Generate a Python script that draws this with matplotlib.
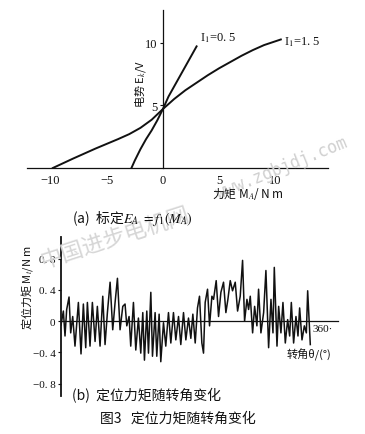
import matplotlib
matplotlib.use("Agg")
import matplotlib.pyplot as plt

# ---------------- data ----------------
# (a) calibration curves E_k vs M_A
m_i05 = [-2.8, -2.5, -2.0, -1.5, -1.0, -0.5, 0.0, 0.5, 1.0, 1.5, 2.0, 2.5, 3.0]
e_i05 = [0.0, 0.6, 1.5, 2.3, 3.0, 3.8, 4.7, 5.7, 6.5, 7.3, 8.1, 8.9, 9.7]
m_i15 = [-9.8, -8.0, -6.0, -4.0, -3.0, -2.0, -1.0, 0.0, 1.0, 2.0, 3.0, 4.0, 5.0, 6.0,
         7.0, 8.0, 9.0, 10.0, 10.5]
e_i15 = [0.0, 0.75, 1.55, 2.3, 2.7, 3.2, 3.85, 4.7, 5.5, 6.2, 6.8, 7.4, 7.95, 8.45,
         8.95, 9.4, 9.8, 10.1, 10.25]

# (b) detent torque vs rotation angle
angle = [0, 3.4, 5.8, 8.2, 11.6, 14, 16.9, 20.2, 25.1, 28.9, 32.3, 35.7, 38.1, 41.9, 45.3,
         49.2, 52.5, 56.4, 60.3, 63.6, 67, 70.9, 74.7, 78.1, 81.5, 85.3, 89.2, 92.5, 95,
         98.3, 100.7, 104.6, 108, 111.8, 115.2, 118.1, 120.5, 123.9, 126.3, 129.7, 132.1,
         135.9, 138.3, 141.7, 144.1, 148, 151.3, 155.2, 158.6, 162.4, 165.8, 169.7, 173,
         176.9, 180.3, 184.1, 187.5, 190.4, 193.8, 197.1, 200, 203.4, 205.8, 208.2, 211.6,
         214.5, 217.9, 220.3, 224.1, 227.5, 230.9, 234.7, 238.1, 241, 244.4, 247.7, 251.6,
         255, 258.8, 262.2, 265.1, 268.5, 270.9, 273.3, 276.7, 279.6, 282.9, 285.3, 288.7,
         292.6, 295.9, 299.8, 303.2, 306.1, 308, 311.9, 314.3, 317.6, 320.5, 323.9, 327.3,
         330.2, 332.6, 335.9, 339.3, 342.2, 344.6, 348, 351.4, 354.3, 356.2, 360]
torque = [-0.05, 0.13, -0.19, 0.15, 0.31, -0.15, 0.06, -0.32, 0.24, -0.42, 0.22, -0.34, 0.24,
          -0.32, 0.24, -0.26, 0.19, -0.32, 0.32, -0.30, 0.11, 0.50, -0.11, 0.24, 0.55, -0.11,
          0.19, 0.22, -0.06, 0.06, -0.32, 0.24, -0.37, 0.04, -0.41, 0.11, -0.50, 0.13, -0.41,
          0.37, -0.45, 0.11, -0.45, 0.09, -0.52, -0.02, -0.32, 0.11, -0.28, 0.11, -0.24, 0.06,
          -0.30, 0.11, -0.24, 0.04, -0.22, 0.09, -0.28, 0.17, 0.32, -0.28, -0.41, 0.24, 0.41,
          -0.06, 0.32, 0.28, 0.52, 0.06, 0.37, 0.50, 0.11, 0.28, 0.52, 0.39, 0.50, 0.13, 0.32,
          0.78, 0.0, 0.28, 0.15, 0.32, -0.15, 0.19, -0.06, 0.41, -0.15, 0.11, 0.65, -0.34, 0.28,
          -0.15, 0.69, -0.32, 0.19, -0.15, 0.24, -0.28, 0.02, -0.19, 0.24, -0.28, 0.06, -0.19,
          0.17, -0.24, -0.06, -0.15, 0.39, -0.30]

xticks_a = [-10, -5, 0, 5, 10]
xticklabels_a = ["\u221210", "\u22125", "0", "5", "10"]
yticks_a = [5, 10]
yticks_b = [0.8, 0.4, 0, -0.4, -0.8]
yticklabels_b = ["0. 8", "0. 4", "0", "\u22120. 4", "\u22120. 8"]

SERIF = ['Liberation Serif', 'Noto Sans CJK SC']
CJK = ['Noto Sans CJK SC', 'DejaVu Sans']
plt.rcParams['font.family'] = SERIF
plt.rcParams['mathtext.fontset'] = 'stix'

W, H = 365, 435
fig = plt.figure(figsize=(W / 100, H / 100), dpi=100)
ink = '#111111'

def fx(px):
    return px / W

def fy(py):
    return 1 - py / H

# watermark (behind)
fig.text(fx(115), fy(238), "中国进步电机网", fontsize=16, rotation=18, ha='center', va='center',
         color='#d6d6d6', family=CJK, zorder=0)
fig.text(fx(282), fy(168), "www.zgbjdj.com", fontsize=12, rotation=22, ha='center',
         va='center', color='#d0d0d0', family=['DejaVu Sans Mono'], zorder=0)

# ---------------- (a) ----------------
ax = fig.add_axes([fx(27), fy(169), fx(328) - fx(27), fy(11) - fy(169)])
ax.plot(m_i05, e_i05, color=ink, lw=1.4, solid_joinstyle='round')
ax.plot(m_i15, e_i15, color=ink, lw=1.4, solid_joinstyle='round')
ax.set_xlim(-12.1, 14.7)
ax.set_ylim(0, 12.6)
for s in ['top', 'right']:
    ax.spines[s].set_visible(False)
ax.spines['left'].set_position(('data', 0))
for s in ['left', 'bottom']:
    ax.spines[s].set_color(ink)
    ax.spines[s].set_linewidth(0.9)
ax.set_xticks(xticks_a)
ax.set_xticklabels(xticklabels_a)
ax.set_yticks(yticks_a)
ax.tick_params(axis='x', length=0, pad=4, labelsize=9, colors=ink)
ax.tick_params(axis='y', length=2, pad=2, labelsize=9, colors=ink)
ax.patch.set_alpha(0)

fig.text(fx(200), fy(38), "I$_1$=0. 5", fontsize=9, ha='left', va='center', color=ink)
fig.text(fx(284), fy(42), "I$_1$=1. 5", fontsize=9, ha='left', va='center', color=ink)
fig.text(fx(140), fy(84), "电势 E$_k$/V", fontsize=8, rotation=90, ha='center', va='center',
         color=ink, family=CJK)
fig.text(fx(248), fy(194), "力矩 M$_A$/ N m", fontsize=8.5, ha='center', va='center',
         color=ink, family=CJK)
fig.text(fx(72), fy(219), "(a)  标定$E_A$ $=f_1(M_A)$", fontsize=10, ha='left', va='center',
         color=ink, family=CJK)

# ---------------- (b) ----------------
bx = fig.add_axes([fx(61), fy(397), fx(338) - fx(61), fy(238) - fy(397)])
bx.plot(angle, torque, color=ink, lw=1.1)
bx.set_xlim(0, 400)
bx.set_ylim(-0.96, 1.08)
for s in ['top', 'right']:
    bx.spines[s].set_visible(False)
bx.spines['bottom'].set_position(('data', 0))
bx.spines['left'].set_linewidth(1.3)
bx.spines['bottom'].set_linewidth(0.9)
bx.spines['left'].set_color(ink)
bx.spines['bottom'].set_color(ink)
bx.set_xticks([])
bx.set_yticks(yticks_b)
bx.set_yticklabels(yticklabels_b)
bx.tick_params(axis='y', length=2, pad=2, labelsize=8, colors=ink)
bx.patch.set_alpha(0)
bx.text(363, -0.04, "360\u00b7", fontsize=8, ha='left', va='top', color=ink)
bx.text(358, -0.42, "转角θ/(°)", fontsize=8, ha='center', va='center', color=ink, family=CJK)

fig.text(fx(27), fy(288), "定位力矩 M$_t$/N m", fontsize=8, rotation=90, ha='center',
         va='center', color=ink, family=CJK)
fig.text(fx(72), fy(396), "(b)  定位力矩随转角变化", fontsize=10, ha='left', va='center',
         color=ink, family=CJK)
fig.text(fx(100), fy(419), "图3   定位力矩随转角变化", fontsize=10, ha='left', va='center',
         color=ink, family=CJK)

fig.savefig("out.png", dpi=100)
